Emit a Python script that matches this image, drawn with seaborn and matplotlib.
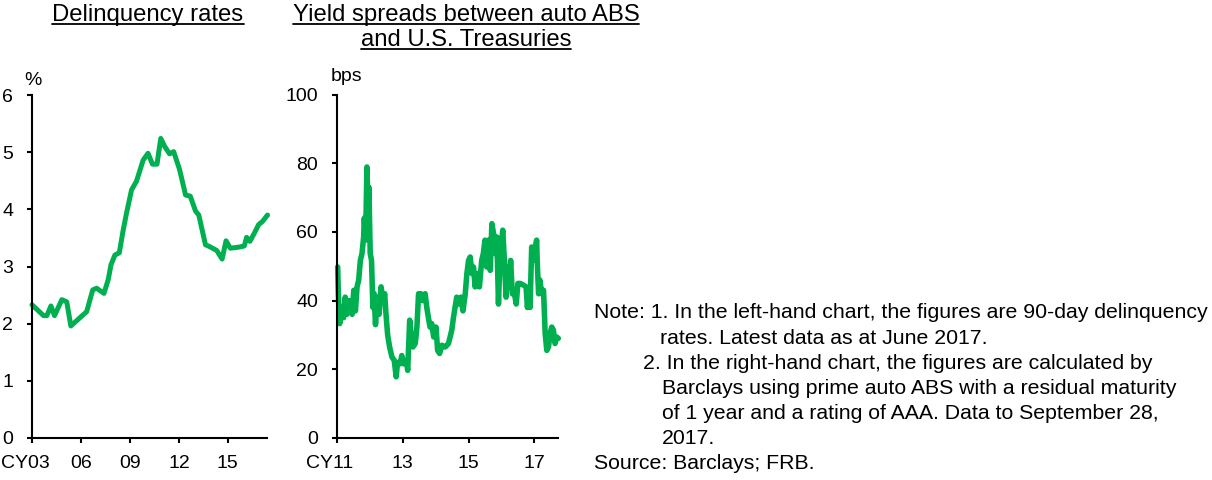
import matplotlib
matplotlib.use("Agg")
import matplotlib.pyplot as plt
import matplotlib.transforms as mtransforms
from matplotlib.lines import Line2D
import seaborn as sns
import pandas as pd

# left-hand chart: 90-day delinquency rates (%)
delinq_year = [2003.00, 2003.71, 2003.91, 2004.16, 2004.38, 2004.83, 2005.13, 2005.38,
               2006.35, 2006.72, 2006.96, 2007.41, 2007.67, 2007.84, 2008.08, 2008.35,
               2008.59, 2008.79, 2009.10, 2009.40, 2009.81, 2010.11, 2010.38, 2010.66,
               2010.89, 2011.13, 2011.43, 2011.68, 2012.04, 2012.41, 2012.70, 2013.02,
               2013.22, 2013.63, 2013.87, 2014.32, 2014.65, 2014.89, 2015.15, 2015.70,
               2016.01, 2016.15, 2016.35, 2016.62, 2016.88, 2017.13, 2017.43]
delinq_rate = [2.33, 2.14, 2.14, 2.31, 2.14, 2.42, 2.38, 1.96,
               2.21, 2.59, 2.62, 2.53, 2.77, 3.03, 3.20, 3.24,
               3.64, 3.93, 4.34, 4.49, 4.86, 4.98, 4.79, 4.79,
               5.24, 5.10, 4.97, 5.01, 4.70, 4.25, 4.23, 3.97,
               3.90, 3.38, 3.35, 3.28, 3.13, 3.45, 3.32, 3.34,
               3.36, 3.51, 3.44, 3.58, 3.73, 3.79, 3.90]

# right-hand chart: auto ABS spread over Treasuries (bps)
spread_year = [2011.02, 2011.04, 2011.08, 2011.15, 2011.20, 2011.25, 2011.30, 2011.38,
               2011.46, 2011.51, 2011.56, 2011.61, 2011.66, 2011.71, 2011.76, 2011.81,
               2011.83, 2011.87, 2011.91, 2011.94, 2011.97, 2012.01, 2012.05, 2012.09,
               2012.13, 2012.17, 2012.23, 2012.28, 2012.34, 2012.40, 2012.45, 2012.49,
               2012.54, 2012.60, 2012.67, 2012.74, 2012.80, 2012.84, 2012.92, 2012.97,
               2013.02, 2013.11, 2013.15, 2013.21, 2013.26, 2013.31, 2013.38, 2013.43,
               2013.48, 2013.55, 2013.60, 2013.68, 2013.73, 2013.78, 2013.83, 2013.88,
               2013.94, 2014.01, 2014.06, 2014.12, 2014.19, 2014.29, 2014.39, 2014.49,
               2014.54, 2014.59, 2014.64, 2014.69, 2014.77, 2014.83, 2014.90, 2014.95,
               2015.00, 2015.05, 2015.10, 2015.15, 2015.20, 2015.27, 2015.33, 2015.40,
               2015.45, 2015.50, 2015.55, 2015.61, 2015.66, 2015.71, 2015.76, 2015.81,
               2015.86, 2015.91, 2015.94, 2015.99, 2016.04, 2016.09, 2016.14, 2016.18,
               2016.23, 2016.28, 2016.33, 2016.38, 2016.45, 2016.50, 2016.57, 2016.67,
               2016.75, 2016.79, 2016.83, 2016.87, 2016.92, 2016.97, 2017.02, 2017.07,
               2017.09, 2017.13, 2017.17, 2017.22, 2017.28, 2017.33, 2017.38, 2017.43,
               2017.48, 2017.53, 2017.58, 2017.63, 2017.68, 2017.73]
spread_bps = [49.8, 42.0, 33.3, 38.0, 35.0, 41.0, 36.0, 40.0,
              36.0, 43.0, 37.0, 44.0, 46.0, 51.7, 53.7, 58.5,
              64.0, 57.6, 78.9, 67.0, 73.0, 53.7, 51.7, 38.0,
              42.0, 33.0, 41.0, 36.0, 44.0, 40.0, 42.0, 36.0,
              30.0, 26.5, 23.6, 22.6, 17.8, 22.0, 21.6, 24.0,
              21.6, 22.6, 19.7, 34.3, 29.4, 26.5, 27.5, 32.3,
              42.0, 42.0, 40.0, 42.0, 38.0, 35.0, 32.3, 33.3,
              29.4, 32.3, 25.5, 24.6, 27.0, 26.5, 27.5, 31.4,
              35.0, 38.0, 41.0, 39.0, 41.0, 37.0, 42.0, 47.9,
              51.7, 52.7, 47.9, 49.8, 44.0, 47.9, 44.0, 51.7,
              53.7, 57.6, 49.8, 57.6, 48.8, 62.4, 59.5, 53.7,
              58.5, 39.0, 47.9, 55.6, 60.5, 51.7, 41.0, 49.8,
              44.0, 51.7, 42.0, 43.0, 39.0, 45.0, 45.0, 44.5,
              44.0, 38.0, 42.0, 38.0, 55.6, 51.7, 54.7, 57.6,
              50.8, 42.0, 46.0, 42.0, 43.0, 30.4, 25.5, 26.5,
              30.4, 32.3, 31.4, 27.5, 29.4, 29.0]

left_ticks = [2003, 2006, 2009, 2012, 2015]
left_labels = ["CY03", "06", "09", "12", "15"]
right_ticks = [2011, 2013, 2015, 2017]
right_labels = ["CY11", "13", "15", "17"]

notes = [
    ("Note: 1. In the left-hand chart, the figures are 90-day delinquency", 594),
    ("rates. Latest data as at June 2017.", 660),
    ("2. In the right-hand chart, the figures are calculated by", 643),
    ("Barclays using prime auto ABS with a residual maturity", 662),
    ("of 1 year and a rating of AAA. Data to September 28,", 662),
    ("2017.", 662),
    ("Source: Barclays; FRB.", 594),
]

sns.set_style("ticks")
plt.rcParams['font.family'] = ['Liberation Sans', 'DejaVu Sans']
plt.rcParams['text.color'] = 'black'
plt.rcParams['xtick.color'] = 'black'
plt.rcParams['ytick.color'] = 'black'

green = "#00B050"
W, H = 1212, 480
fig = plt.figure(figsize=(W / 100, H / 100), dpi=100)

ax1 = fig.add_axes([32 / W, 42 / H, 235 / W, 343 / H])
ax2 = fig.add_axes([337 / W, 42 / H, 221 / W, 343.5 / H])

df1 = pd.DataFrame({"year": delinq_year, "rate": delinq_rate})
df2 = pd.DataFrame({"year": spread_year, "bps": spread_bps})

sns.lineplot(data=df1, x="year", y="rate", ax=ax1, color=green, linewidth=3.6,
             estimator=None, solid_capstyle="round", solid_joinstyle="round")
sns.lineplot(data=df2, x="year", y="bps", ax=ax2, color=green, linewidth=4.0,
             estimator=None, solid_capstyle="round", solid_joinstyle="round")

ax1.set_xlim(2003, 2017.4)
ax1.set_ylim(0, 6)
ax1.set_yticks(range(0, 7))
ax1.set_xticks(left_ticks)
ax1.set_xticklabels(left_labels)

ax2.set_xlim(2011, 2017.72)
ax2.set_ylim(0, 100)
ax2.set_yticks(range(0, 101, 20))
ax2.set_xticks(right_ticks)
ax2.set_xticklabels(right_labels)

for ax in (ax1, ax2):
    sns.despine(ax=ax)
    ax.set_xlabel("")
    ax.set_ylabel("")
    for s in ("left", "bottom"):
        ax.spines[s].set_linewidth(1.5)
        ax.spines[s].set_color("black")
    ax.tick_params(axis="both", direction="out", length=3.6, width=1.5,
                   colors="black", labelcolor="black", labelsize=14)
    ax.tick_params(axis="y", pad=10)
    ax.tick_params(axis="x", pad=9)
    for line in ax.get_lines():
        line.set_clip_on(False)
    # first label ("CY..") sits a little to the left of its tick
    lbl = ax.get_xticklabels()[0]
    lbl.set_transform(lbl.get_transform() +
                      mtransforms.ScaledTranslation(-7 / 100, 0, fig.dpi_scale_trans))

# unit labels
fig.text(33 / W, 1 - 85 / H, "%", fontsize=14, ha="center", va="baseline")
fig.text(347 / W, 1 - 81 / H, "bps", fontsize=14, ha="center", va="baseline")

# underlined titles
titles = [("Delinquency rates", 148, 21),
          ("Yield spreads between auto ABS", 466, 21),
          ("and U.S. Treasuries", 466, 46)]
title_objs = []
for txt, x, yb in titles:
    t = fig.text(x / W, 1 - yb / H, txt, fontsize=17.2, ha="center", va="baseline")
    title_objs.append((t, yb))

# notes
for i, (txt, x) in enumerate(notes):
    yb = 318.5 + i * 25.1
    fig.text(x / W, 1 - yb / H, txt, fontsize=15.3, ha="left", va="baseline")

fig.canvas.draw()
renderer = fig.canvas.get_renderer()
for t, yb in title_objs:
    bb = t.get_window_extent(renderer)
    yl = 1 - (yb + 2.5) / H
    fig.add_artist(Line2D([bb.x0 / W, bb.x1 / W], [yl, yl], transform=fig.transFigure,
                          color="black", linewidth=1.3))

fig.savefig("out.png", dpi=100)
